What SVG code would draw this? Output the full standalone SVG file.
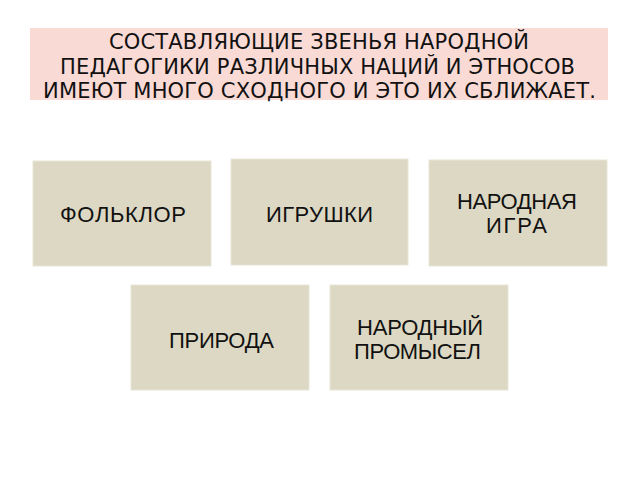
<svg xmlns="http://www.w3.org/2000/svg" width="640" height="480" viewBox="0 0 640 480">
<style>
.box{fill:#dcd8c3;stroke:#e8e5d8;stroke-width:1}
.t{font-family:"Liberation Sans",Arial,sans-serif;font-size:22px;fill:#111}
.h{font-family:"DejaVu Sans",sans-serif;font-size:21px;fill:#111}
</style>
<rect width="640" height="480" fill="#ffffff"/>
<g id="title">
<rect x="30" y="28" width="578" height="72" fill="#f9dad5"/>
<text class="h" x="109" y="49" textLength="420" lengthAdjust="spacing">СОСТАВЛЯЮЩИЕ ЗВЕНЬЯ НАРОДНОЙ</text>
<text class="h" x="60" y="74" textLength="515" lengthAdjust="spacing">ПЕДАГОГИКИ РАЗЛИЧНЫХ НАЦИЙ И ЭТНОСОВ</text>
<text class="h" x="43" y="98" textLength="553" lengthAdjust="spacing">ИМЕЮТ МНОГО СХОДНОГО И ЭТО ИХ СБЛИЖАЕТ.</text>
</g>
<g id="folklor">
<rect class="box" x="33" y="161" width="178" height="105"/>
<text class="t" x="60" y="222" textLength="126" lengthAdjust="spacing">ФОЛЬКЛОР</text>
</g>
<g id="igrushki">
<rect class="box" x="231" y="159" width="177" height="106"/>
<text class="t" x="266" y="222" textLength="107" lengthAdjust="spacing">ИГРУШКИ</text>
</g>
<g id="narodnaya-igra">
<rect class="box" x="429" y="160" width="178" height="106"/>
<text class="t" x="457" y="209" textLength="120" lengthAdjust="spacing">НАРОДНАЯ</text>
<text class="t" x="486" y="233" textLength="61" lengthAdjust="spacing">ИГРА</text>
</g>
<g id="priroda">
<rect class="box" x="131" y="285" width="178" height="105"/>
<text class="t" x="169" y="348" textLength="105" lengthAdjust="spacing">ПРИРОДА</text>
</g>
<g id="narodny-promysel">
<rect class="box" x="330" y="285" width="178" height="105"/>
<text class="t" x="357" y="335" textLength="126" lengthAdjust="spacing">НАРОДНЫЙ</text>
<text class="t" x="354" y="359" textLength="127" lengthAdjust="spacing">ПРОМЫСЕЛ</text>
</g>
<g id="connectors"></g>
</svg>
